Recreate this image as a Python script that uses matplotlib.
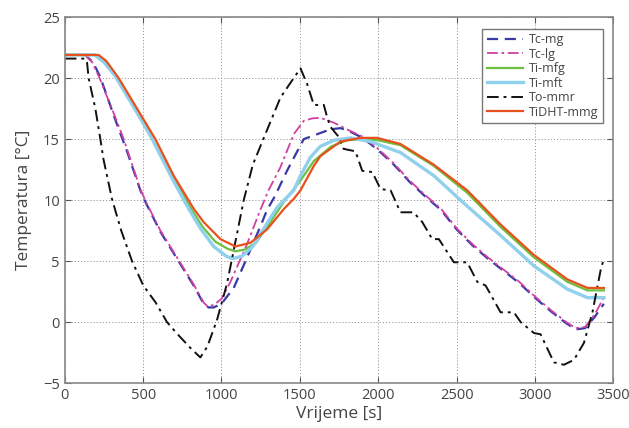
import matplotlib.pyplot as plt

plt.rcParams['font.family'] = ['Open Sans', 'DejaVu Sans']

# --- data (time in s, temperature in degC) ---
t_tcmg = [0, 130, 180, 226, 322, 397, 482, 520, 610, 716, 822, 886, 917, 950, 1000, 1078, 1160, 1250,
          1291, 1340, 1418, 1500, 1525, 1610, 1695, 1760, 1823, 1900, 2000, 2100, 2200, 2300, 2400,
          2500, 2600, 2700, 2800, 2900, 3000, 3100, 3200, 3260, 3320, 3380, 3440]
T_tcmg = [21.9, 21.9, 21.3, 20.1, 16.6, 14.0, 10.8, 9.7, 7.4, 5.2, 3.0, 1.5, 1.2, 1.2, 1.5, 2.8, 5.2, 7.9,
          9.2, 10.3, 12.4, 14.4, 15.0, 15.4, 15.8, 15.9, 15.6, 15.1, 14.1, 12.9, 11.5, 10.3, 9.2,
          7.6, 6.3, 5.2, 4.2, 3.2, 2.0, 0.9, -0.1, -0.6, -0.5, 0.4, 1.5]

t_tclg = [0, 130, 175, 222, 322, 376, 482, 520, 610, 716, 822, 886, 910, 950, 1000, 1057, 1160, 1248,
          1300, 1376, 1461, 1525, 1580, 1631, 1716, 1800, 1900, 2000, 2100, 2200, 2300, 2400, 2500,
          2600, 2700, 2800, 2900, 3000, 3100, 3200, 3260, 3320, 3380, 3440]
T_tclg = [21.9, 21.9, 21.3, 20.0, 16.8, 15.0, 10.9, 9.8, 7.5, 5.3, 3.1, 1.6, 1.3, 1.4, 1.9, 3.3, 6.3, 9.2,
          10.8, 12.7, 15.4, 16.5, 16.7, 16.75, 16.35, 15.8, 15.2, 14.2, 13.0, 11.6, 10.4, 9.3, 7.7,
          6.4, 5.3, 4.3, 3.3, 2.1, 1.0, 0.0, -0.5, -0.4, 0.6, 2.0]

t_timfg = [0, 200, 260, 333, 460, 557, 690, 800, 880, 960, 1040, 1090, 1150, 1220, 1291, 1400, 1461,
           1504, 1589, 1700, 1800, 1900, 2000, 2142, 2355, 2568, 2781, 2994, 3207, 3335, 3440]
T_timfg = [21.9, 21.9, 21.3, 20.0, 17.3, 15.0, 11.9, 9.4, 7.8, 6.6, 6.0, 5.8, 5.95, 6.5, 7.8, 9.9, 10.9,
           11.6, 13.2, 14.4, 14.9, 15.0, 14.9, 14.5, 12.8, 10.6, 7.8, 5.3, 3.3, 2.6, 2.6]

t_timft = [0, 190, 250, 320, 450, 550, 680, 790, 870, 950, 1030, 1070, 1130, 1200, 1291, 1355, 1461,
           1504, 1567, 1630, 1716, 1823, 1950, 2142, 2355, 2568, 2781, 2994, 3207, 3335, 3440]
T_timft = [21.9, 21.9, 21.3, 20.2, 17.4, 15.2, 11.9, 9.3, 7.6, 6.2, 5.4, 5.2, 5.4, 6.2, 8.1, 9.4, 10.8,
           12.0, 13.5, 14.4, 14.9, 15.1, 14.8, 13.9, 12.0, 9.5, 7.1, 4.6, 2.7, 2.0, 2.0]

t_tommr = [0, 130, 142, 152, 195, 227, 246, 301, 360, 429, 501, 580, 652, 720, 800, 865, 910, 972, 1036,
           1142, 1200, 1270, 1376, 1450, 1504, 1547, 1589, 1653, 1674, 1695, 1747, 1779, 1855, 1898,
           1962, 2015, 2079, 2142, 2225, 2281, 2345, 2387, 2483, 2568, 2632, 2685, 2781, 2866, 2909,
           2994, 3036, 3121, 3185, 3249, 3313, 3367, 3420, 3440]
T_tommr = [21.6, 21.6, 21.3, 20.0, 17.5, 15.0, 13.4, 10.1, 7.5, 5.0, 3.0, 1.6, 0.0, -1.0, -2.1, -2.9, -2.0,
           0.2, 3.2, 10.0, 12.9, 15.1, 18.4, 19.8, 20.8, 19.5, 17.8, 17.8, 16.8, 16.0, 15.2, 14.2, 14.0,
           12.4, 12.3, 10.9, 10.8, 9.0, 9.0, 8.2, 6.8, 6.8, 4.9, 4.9, 3.3, 3.0, 0.8, 0.8, 0.0,
           -0.9, -1.0, -3.3, -3.5, -3.1, -1.7, 0.8, 4.3, 5.2]

t_tidht = [0, 216, 265, 344, 461, 578, 695, 822, 886, 993, 1089, 1185, 1291, 1400, 1461, 1504, 1589, 1631,
           1759, 1887, 1993, 2142, 2355, 2568, 2781, 2994, 3207, 3335, 3440]
T_tidht = [21.9, 21.9, 21.4, 20.0, 17.5, 15.0, 12.0, 9.3, 8.2, 6.8, 6.2, 6.5, 7.6, 9.3, 10.1, 10.8, 12.8,
           13.6, 14.8, 15.1, 15.1, 14.6, 12.9, 10.8, 8.0, 5.5, 3.5, 2.8, 2.8]

fig, ax = plt.subplots(figsize=(6.29, 4.28), dpi=100)
fig.subplots_adjust(left=0.103, right=0.975, top=0.960, bottom=0.105)

ax.plot(t_tcmg, T_tcmg, color='#3a3aa6', ls=(0, (5, 3)), lw=1.6, label='Tc-mg')
ax.plot(t_tclg, T_tclg, color='#d040a0', ls=(0, (6, 2, 1.5, 2)), lw=1.3, label='Tc-lg')
ax.plot(t_timfg, T_timfg, color='#6cbf3f', lw=1.6, label='Ti-mfg')
ax.plot(t_timft, T_timft, color='#8fd0ec', lw=2.4, label='Ti-mft')
ax.plot(t_tommr, T_tommr, color='#111111', ls=(0, (6, 2.5, 1.5, 2.5)), lw=1.4, label='To-mmr')
ax.plot(t_tidht, T_tidht, color='#e8501e', lw=1.6, label='TiDHT-mmg')

ax.set_xlim(0, 3500)
ax.set_ylim(-5, 25)
ax.set_xticks(range(0, 3501, 500))
ax.set_yticks(range(-5, 26, 5))
ax.grid(True, ls=(0, (1.2, 2)), color='#999999', lw=0.7)
ax.tick_params(direction='in', top=True, right=True, labelsize=10.5, colors='#555555',
               labelcolor='#444444', length=4)
for s in ax.spines.values():
    s.set_color('#888888')
    s.set_linewidth(1.2)

ax.set_xlabel('Vrijeme [s]', fontsize=12.5, color='#444444', labelpad=2)
ax.set_ylabel('Temperatura [°C]', fontsize=12.5, color='#444444', labelpad=8)

leg = ax.legend(loc='upper right', bbox_to_anchor=(0.993, 0.985), fontsize=9, fancybox=False,
                framealpha=1, edgecolor='#777777', handlelength=2.9, borderpad=0.35,
                labelspacing=0.12, handletextpad=0.5)
for txt in leg.get_texts():
    txt.set_color('#444444')

fig.savefig('out.png', dpi=100)
